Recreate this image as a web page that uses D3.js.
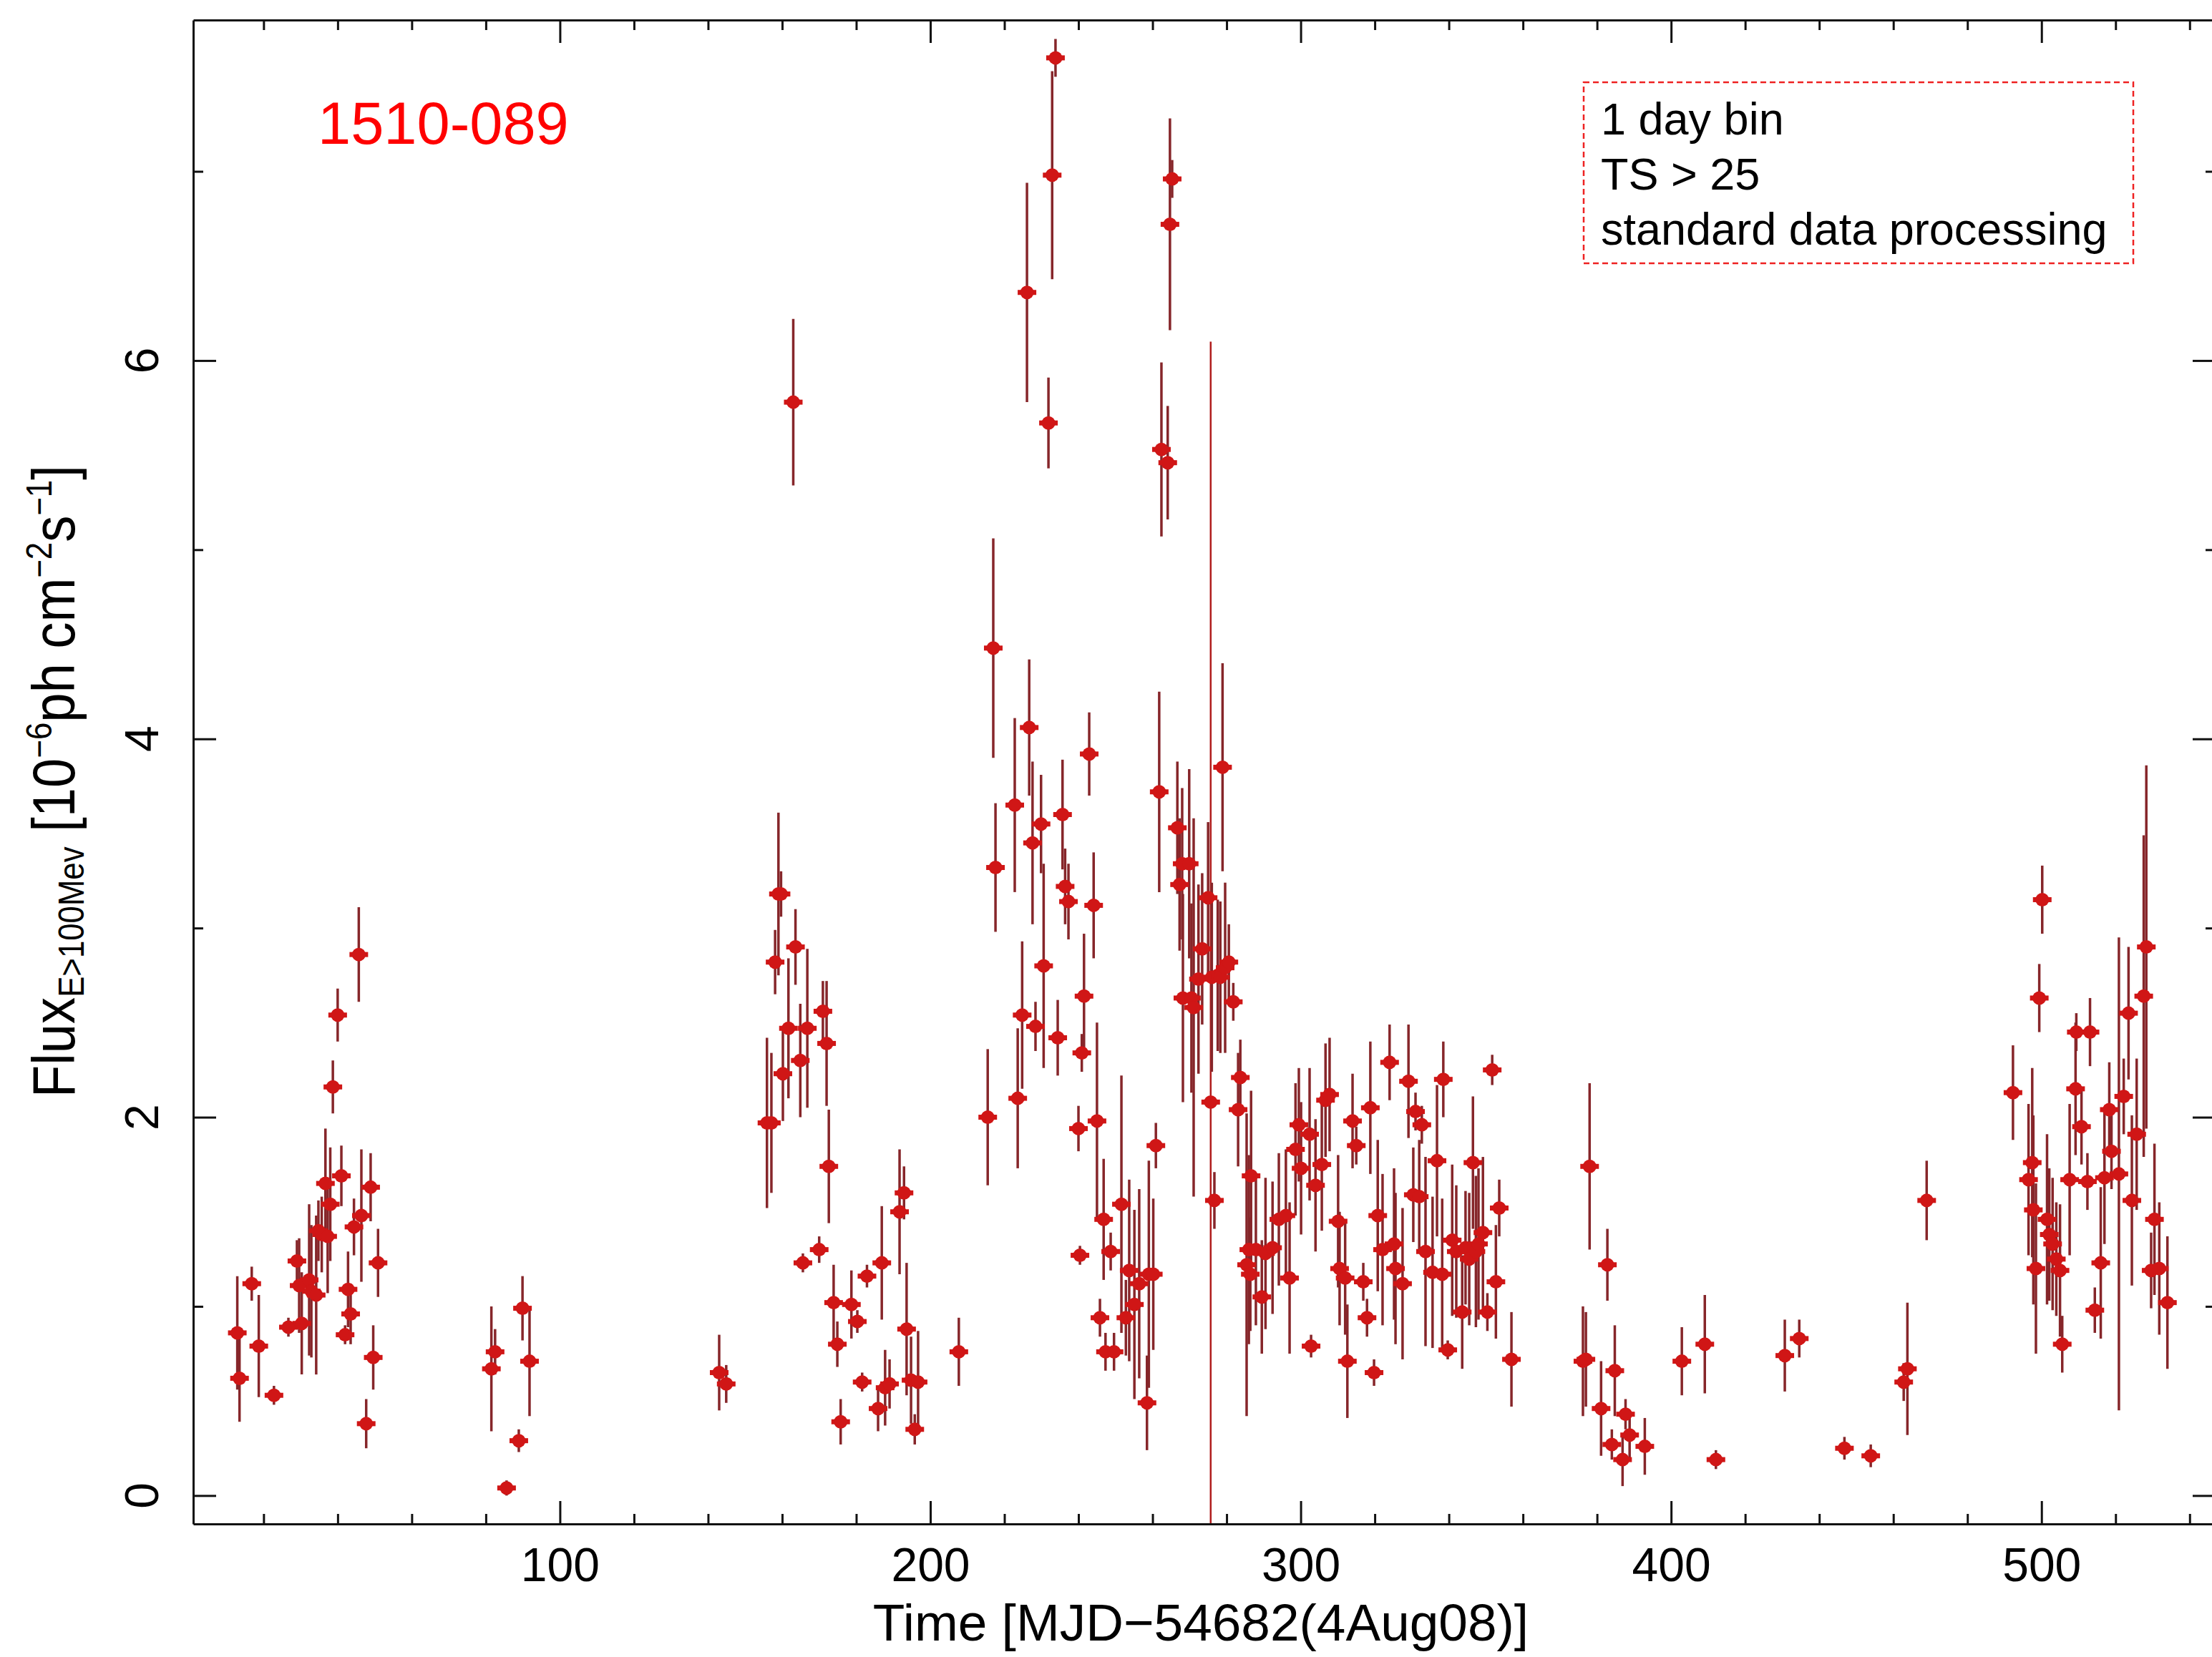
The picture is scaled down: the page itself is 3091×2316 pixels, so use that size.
<!DOCTYPE html>
<html>
<head>
<meta charset="utf-8">
<script src="https://cdn.jsdelivr.net/npm/d3@7"></script>
<style>
  html, body { margin: 0; padding: 0; background: #fff; }
  svg { display: block; }
</style>
</head>
<body>
<div id="chart"></div>
<script>
// light curve of 1510-089, 1 day bins (time in days since MJD 54682, flux in 1e-6 ph cm^-2 s^-1)
var time = [
  12.9, 13.5, 16.8, 18.7, 22.8, 26.7, 29.0, 29.6, 30.3, 32.3, 32.9, 34.2, 34.8, 35.7, 36.7, 37.3, 38.0, 38.7, 40.0, 41.0,
  42.0, 42.8, 43.5, 44.4, 45.7, 46.4, 47.7, 48.9, 49.6, 50.9,
  81.5, 82.5, 85.6, 88.9, 89.9, 91.8,
  143.0, 144.9, 155.9, 157.1, 158.1, 159.0, 159.7, 160.2, 161.7, 163.0, 163.6, 164.9, 165.6, 166.8, 170.0, 171.0, 172.0, 172.6,
  173.9, 174.9, 175.8, 178.7, 180.3, 181.6, 182.9, 185.9, 186.9, 187.8, 189.0, 191.7, 192.9, 193.6, 194.8, 195.8, 196.7, 207.7,
  215.5, 217.0, 217.6, 222.8, 223.6, 224.8, 226.1, 226.7, 227.6, 228.4, 229.9, 230.6, 231.9, 232.9, 233.8, 234.4, 235.7, 236.4,
  237.3, 240.0, 240.4, 240.9, 241.5, 242.9, 244.1, 245.0, 245.8, 246.8, 247.3, 248.7, 249.6, 251.6, 252.8, 253.7, 255.1, 256.4,
  258.5, 259.0, 260.2, 260.9,
  261.8, 262.4, 264.1, 264.7, 265.3, 266.7, 267.3, 268.0, 268.2, 269.9, 270.5, 271.1, 272.4, 273.4, 275.0, 275.7, 276.0, 276.7,
  277.6, 278.3, 278.9, 279.6, 280.6, 281.8, 283.1, 283.7, 285.4, 286.0, 286.4, 286.6, 287.9, 289.5, 290.5,
  292.4, 294.1, 296.0, 297.0, 298.6, 299.5, 300.1, 302.4, 302.8, 304.0, 305.7, 306.7, 307.8, 310.1, 310.5, 312.0, 312.6, 314.0,
  315.0, 316.9, 317.9, 318.8, 319.8, 320.8, 322.1, 324.0, 325.2, 325.6, 327.5, 329.1, 330.4, 331.0, 332.0, 332.7, 333.7, 335.6,
  336.8, 338.2, 338.5, 339.7, 340.9, 342.0, 343.6, 344.5, 345.5, 346.5, 347.3, 348.0, 349.2, 350.4, 351.7, 352.7, 353.6, 356.9,
  376.2, 377.0, 378.0, 381.1, 382.8, 384.0, 384.8, 386.9, 387.7, 388.8, 392.9, 402.9, 409.1, 412.1, 430.7, 434.6, 446.8, 453.9,
  462.8, 463.8, 469.0,
  492.3, 496.5, 497.5, 497.8, 498.5, 499.4, 500.2, 501.5, 502.1, 503.0, 504.0, 505.0, 505.6, 507.6, 509.2, 509.4, 510.8, 512.4,
  513.1, 514.4, 516.0, 517.0, 518.3, 518.9, 520.9, 522.2, 523.5, 524.4, 525.7, 527.6, 528.3, 529.6, 530.5, 531.8, 534.0
];
var flux = [
  0.86, 0.62, 1.12, 0.79, 0.53, 0.89, 1.24, 1.11, 0.91, 1.14, 1.08, 1.06, 1.40, 1.38, 1.65, 1.37, 1.54, 2.16, 2.54, 1.69,
  0.85, 1.09, 0.96, 1.42, 2.86, 1.48, 0.38, 1.63, 0.73, 1.23,
  0.67, 0.76, 0.04, 0.29, 0.99, 0.71,
  0.65, 0.59, 1.97, 1.97, 2.82, 3.18, 3.18, 2.23, 2.47, 5.78, 2.90, 2.30, 1.23, 2.47, 1.30, 2.56, 2.39, 1.74,
  1.02, 0.80, 0.39, 1.01, 0.92, 0.60, 1.16, 0.46, 1.23, 0.57, 0.59, 1.50, 1.60, 0.88, 0.61, 0.35, 0.60, 0.76,
  2.00, 4.48, 3.32, 3.65, 2.10, 2.54, 6.36, 4.06, 3.45, 2.48, 3.55, 2.80, 5.67, 6.98, 7.60, 2.42, 3.60, 3.22,
  3.14, 1.94, 1.27, 2.34, 2.64, 3.92, 3.12, 1.98, 0.94, 1.46, 0.76, 1.29, 0.76, 1.54, 0.94, 1.19, 1.01, 1.12,
  0.49, 1.17, 1.17, 1.85,
  3.72, 5.53, 5.46, 6.72, 6.96, 3.53, 3.23, 3.34, 2.63, 3.34, 2.63, 2.58, 2.73, 2.89, 3.16, 2.08, 2.74, 1.56,
  2.75, 2.74, 3.85, 2.79, 2.82, 2.61, 2.04, 2.21, 1.22, 1.30, 1.17, 1.69, 1.30, 1.05, 1.28,
  1.31, 1.46, 1.48, 1.15, 1.83, 1.96, 1.73, 1.91, 0.79, 1.64, 1.75, 2.09, 2.12, 1.45, 1.20, 1.15, 0.71, 1.98,
  1.85, 1.13, 0.94, 2.05, 0.65, 1.48, 1.30, 2.29, 1.33, 1.20, 1.12, 2.19, 1.59, 2.03, 1.58, 1.96, 1.29, 1.18,
  1.77, 1.17, 2.20, 0.77, 1.35, 1.29, 0.97, 1.31, 1.25, 1.76, 1.29, 1.33, 1.39, 0.97, 2.25, 1.13, 1.52, 0.72,
  0.71, 0.72, 1.74, 0.46, 1.22, 0.27, 0.66, 0.19, 0.43, 0.32, 0.26, 0.71, 0.80, 0.19, 0.74, 0.83, 0.25, 0.21,
  0.60, 0.67, 1.56,
  2.13, 1.67, 1.76, 1.51, 1.20, 2.63, 3.15, 1.46, 1.38, 1.33, 1.25, 1.19, 0.80, 1.67, 2.15, 2.45, 1.95, 1.66,
  2.45, 0.98, 1.23, 1.68, 2.04, 1.82, 1.70, 2.11, 2.55, 1.56, 1.91, 2.64, 2.90, 1.19, 1.46, 1.20, 1.02
];
var fluxErr = [
  0.30, 0.23, 0.09, 0.27, 0.05, 0.05, 0.11, 0.25, 0.27, 0.40, 0.35, 0.42, 0.16, 0.20, 0.29, 0.30, 0.30, 0.14, 0.14, 0.16,
  0.05, 0.20, 0.16, 0.15, 0.25, 0.35, 0.13, 0.18, 0.17, 0.18,
  0.33, 0.12, 0.04, 0.06, 0.17, 0.29,
  0.20, 0.10, 0.45, 0.37, 0.17, 0.43, 0.12, 0.25, 0.37, 0.44, 0.20, 0.30, 0.05, 0.42, 0.07, 0.16, 0.33, 0.30,
  0.20, 0.12, 0.12, 0.18, 0.06, 0.05, 0.06, 0.12, 0.30, 0.20, 0.13, 0.33, 0.14, 0.35, 0.23, 0.08, 0.27, 0.18,
  0.36, 0.58, 0.34, 0.46, 0.37, 0.39, 0.58, 0.36, 0.43, 0.13, 0.26, 0.54, 0.24, 0.55, 0.10, 0.20, 0.29, 0.20,
  0.20, 0.12, 0.05, 0.10, 0.33, 0.22, 0.28, 0.52, 0.10, 0.32, 0.10, 0.10, 0.10, 0.68, 0.20, 0.48, 0.50, 0.50,
  0.25, 0.60, 0.40, 0.12,
  0.53, 0.46, 0.30, 0.56, 0.10, 0.35, 0.35, 0.40, 0.55, 0.50, 0.50, 1.00, 0.50, 0.40, 0.40, 4.02, 0.50, 0.15,
  0.40, 0.40, 0.55, 0.45, 0.20, 0.10, 0.30, 0.20, 0.80, 0.50, 0.30, 0.45, 0.40, 0.30, 0.40,
  0.35, 0.35, 0.35, 0.40, 0.35, 0.30, 0.35, 0.35, 0.06, 0.35, 0.35, 0.30, 0.30, 0.35, 0.30, 0.30, 0.30, 0.25,
  0.10, 0.10, 0.10, 0.35, 0.07, 0.40, 0.40, 0.20, 0.40, 0.40, 0.40, 0.30, 0.25, 0.10, 0.30, 0.10, 0.50, 0.40,
  0.40, 0.40, 0.20, 0.05, 0.40, 0.35, 0.30, 0.30, 0.35, 0.35, 0.40, 0.40, 0.40, 0.10, 0.08, 0.30, 0.15, 0.25,
  0.29, 0.25, 0.44, 0.25, 0.19, 0.08, 0.24, 0.14, 0.08, 0.12, 0.15, 0.18, 0.26, 0.05, 0.19, 0.10, 0.06, 0.06,
  0.10, 0.35, 0.21,
  0.25, 0.40, 0.50, 0.50, 0.45, 0.18, 0.18, 0.45, 0.35, 0.35, 0.30, 0.35, 0.15, 0.40, 0.35, 0.10, 0.20, 0.15,
  0.18, 0.12, 0.40, 0.35, 0.25, 0.20, 1.25, 0.20, 0.35, 0.45, 0.40, 0.85, 0.96, 0.20, 0.40, 0.35, 0.35
];

var xMajorTicks = [100, 200, 300, 400, 500];
var xMinorTicks = [20, 40, 60, 80, 120, 140, 160, 180, 220, 240, 260, 280, 320, 340, 360, 380, 420, 440, 460, 480, 520, 540];
var yMajorTicks = [0, 2, 4, 6];
var yMinorTicks = [1, 3, 5, 7];
var sourceName = "1510-089";
var infoLines = ["1 day bin", "TS > 25", "standard data processing"];

var font = '"Liberation Sans", Arial, Helvetica, sans-serif';
var width = 3091, height = 2316;

// plot frame, the right edge sits just past the picture like in the original
var x = d3.scaleLinear().domain([1, 547]).range([270, 3096]);
var y = d3.scaleLinear().domain([-0.15, 7.8]).range([2130, 28]);

var svg = d3.select("#chart").append("svg")
    .attr("width", width)
    .attr("height", height);

svg.append("rect").attr("width", width).attr("height", height).attr("fill", "#fff");

svg.append("defs").append("clipPath").attr("id", "plot-clip")
    .append("rect")
    .attr("x", x.range()[0])
    .attr("y", y.range()[1])
    .attr("width", x.range()[1] - x.range()[0])
    .attr("height", y.range()[0] - y.range()[1]);

var points = time.map(function(t, i) {
    return {t: t, f: flux[i], e: fluxErr[i]};
});

// data first, frame on top
var plot = svg.append("g").attr("clip-path", "url(#plot-clip)");

plot.selectAll(".err").data(points).enter().append("line")
    .attr("class", "err")
    .attr("x1", function(d) { return x(d.t); })
    .attr("x2", function(d) { return x(d.t); })
    .attr("y1", function(d) { return y(d.f - d.e); })
    .attr("y2", function(d) { return y(d.f + d.e); })
    .attr("stroke", function(d) { return d.e > 2 ? "#b01c1c" : "#86262a"; })
    .attr("stroke-width", function(d) { return d.e > 2 ? 2.5 : 3.5; });

plot.selectAll(".xbar").data(points).enter().append("rect")
    .attr("class", "xbar")
    .attr("x", function(d) { return x(d.t) - 13; })
    .attr("y", function(d) { return y(d.f) - 3.5; })
    .attr("width", 26)
    .attr("height", 7)
    .attr("fill", "#d01616");

plot.selectAll(".pt").data(points).enter().append("circle")
    .attr("class", "pt")
    .attr("cx", function(d) { return x(d.t); })
    .attr("cy", function(d) { return y(d.f); })
    .attr("r", 9.5)
    .attr("fill", "#d01616");

// axes
function styleAxis(g) {
    g.attr("font-family", null).attr("font-size", null);
    g.select(".domain").attr("stroke", "#111").attr("stroke-width", 3);
    g.selectAll(".tick line").attr("stroke", "#111").attr("stroke-width", 3);
}
function dropDomain(g) { g.select(".domain").remove(); }

var axisBottomG = svg.append("g").attr("transform", "translate(0," + y.range()[0] + ")");
axisBottomG.append("g")
    .call(d3.axisBottom(x).tickValues(xMinorTicks).tickSize(-14).tickSizeOuter(0).tickFormat(""))
    .call(styleAxis).call(dropDomain);
axisBottomG.append("g")
    .call(d3.axisBottom(x).tickValues(xMajorTicks).tickSize(-32).tickSizeOuter(0).tickPadding(33).tickFormat(d3.format("d")))
    .call(styleAxis)
    .call(function(g) {
        g.selectAll("text")
            .attr("font-family", font)
            .attr("font-size", 66)
            .attr("fill", "#000");
    });

var axisTopG = svg.append("g").attr("transform", "translate(0," + y.range()[1] + ")");
axisTopG.append("g")
    .call(d3.axisTop(x).tickValues(xMinorTicks).tickSize(-14).tickSizeOuter(0).tickFormat(""))
    .call(styleAxis).call(dropDomain);
axisTopG.append("g")
    .call(d3.axisTop(x).tickValues(xMajorTicks).tickSize(-32).tickSizeOuter(0).tickFormat(""))
    .call(styleAxis);

var axisLeftG = svg.append("g").attr("transform", "translate(" + x.range()[0] + ",0)");
axisLeftG.append("g")
    .call(d3.axisLeft(y).tickValues(yMinorTicks).tickSize(-14).tickSizeOuter(0).tickFormat(""))
    .call(styleAxis).call(dropDomain);
axisLeftG.append("g")
    .call(d3.axisLeft(y).tickValues(yMajorTicks).tickSize(-32).tickSizeOuter(0).tickFormat(""))
    .call(styleAxis);

var axisRightG = svg.append("g").attr("transform", "translate(" + x.range()[1] + ",0)");
axisRightG.append("g")
    .call(d3.axisRight(y).tickValues(yMinorTicks).tickSize(-14).tickSizeOuter(0).tickFormat(""))
    .call(styleAxis).call(dropDomain);
axisRightG.append("g")
    .call(d3.axisRight(y).tickValues(yMajorTicks).tickSize(-32).tickSizeOuter(0).tickFormat(""))
    .call(styleAxis);

// y tick labels are turned on their side
svg.append("g").selectAll("text").data(yMajorTicks).enter().append("text")
    .attr("transform", function(d) { return "translate(221," + y(d) + ") rotate(-90)"; })
    .attr("text-anchor", "middle")
    .attr("font-family", font)
    .attr("font-size", 66)
    .attr("fill", "#000")
    .text(function(d) { return d; });

// axis titles
svg.append("text")
    .attr("x", 1678)
    .attr("y", 2293)
    .attr("text-anchor", "middle")
    .attr("font-family", font)
    .attr("font-size", 73)
    .attr("fill", "#000")
    .text("Time [MJD\u221254682(4Aug08)]");

var yTitle = svg.append("text")
    .attr("font-family", font)
    .attr("font-size", 78)
    .attr("fill", "#000");
yTitle.append("tspan").text("Flux");
yTitle.append("tspan").attr("font-size", 46).attr("dy", 12).text("E>100Mev");
yTitle.append("tspan").attr("dy", -12).text(" [10");
yTitle.append("tspan").attr("font-size", 46).attr("dy", -30).text("\u22126");
yTitle.append("tspan").attr("dy", 30).text("ph cm");
yTitle.append("tspan").attr("font-size", 46).attr("dy", -30).text("\u22122");
yTitle.append("tspan").attr("dy", 30).text("s");
yTitle.append("tspan").attr("font-size", 46).attr("dy", -30).text("\u22121");
yTitle.append("tspan").attr("dy", 30).text("]");

// stretch the title along its length so it spans the same stretch as the original
var yTitleLength = 884;
var bb = yTitle.node().getBBox();
var k = yTitleLength / bb.width;
yTitle.attr("transform",
    "translate(104," + (1092 + yTitleLength / 2) + ") rotate(-90) scale(" + k + ",1.08) translate(" + (-bb.x) + ",0)");

// source name
svg.append("text")
    .attr("x", 444)
    .attr("y", 201)
    .attr("font-family", font)
    .attr("font-size", 83)
    .attr("fill", "#ff0000")
    .text(sourceName);

// info box
var info = svg.append("g");
info.append("rect")
    .attr("x", 2213)
    .attr("y", 115)
    .attr("width", 768)
    .attr("height", 253)
    .attr("fill", "none")
    .attr("stroke", "#ee2222")
    .attr("stroke-width", 2.5)
    .attr("stroke-dasharray", "8,5");
info.selectAll("text").data(infoLines).enter().append("text")
    .attr("x", 2237)
    .attr("y", function(d, i) { return 188 + i * 77; })
    .attr("font-family", font)
    .attr("font-size", 63)
    .attr("fill", "#000")
    .text(function(d) { return d; });
</script>
</body>
</html>
